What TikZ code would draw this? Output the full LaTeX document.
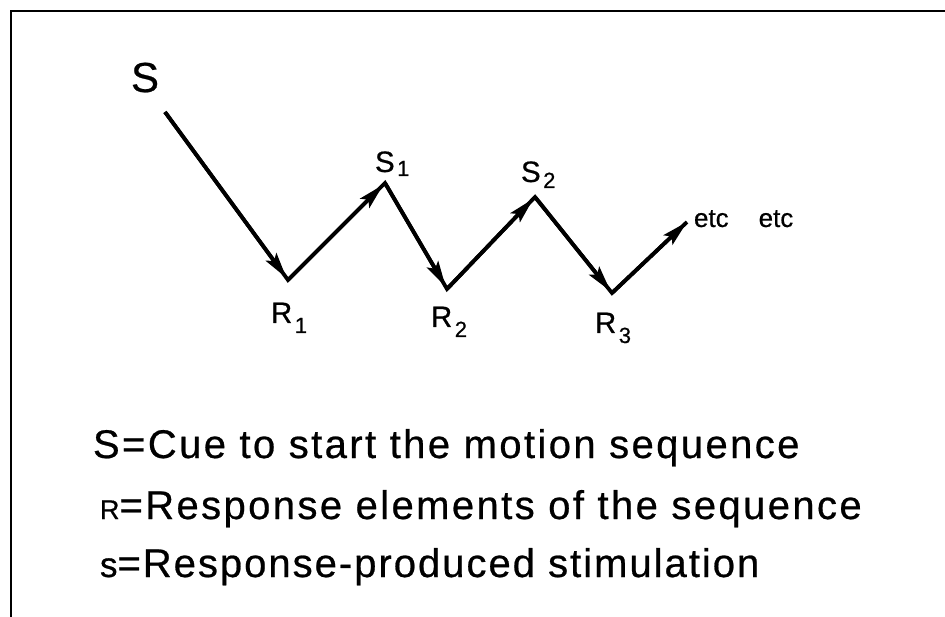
\documentclass[tikz,border=0pt]{standalone}
\usepackage{fontspec}
\usepackage{graphicx}
\setmainfont[FakeBold=0.6]{Liberation Sans}
\newfontfamily\legendfont[LetterSpace=6,FakeBold=0.6]{Liberation Sans}
\newfontfamily\legendfontb[LetterSpace=5,FakeBold=0.6]{Liberation Sans}
\usetikzlibrary{arrows.meta}
\newcommand\subnum[2]{\hspace{2.5pt}\raisebox{-#2}{\fontsize{22}{24}\selectfont #1}}
\begin{document}
\begin{tikzpicture}[x=1pt,y=-1pt,
  flow/.style={line width=3.8pt, line join=miter},
  tipline/.style={line width=3.8pt, -{Stealth[length=26pt,width=13pt,inset=5pt]}, shorten >=2.5pt},
  lbl/.style={anchor=base west, inner sep=0pt, outer sep=0pt},
  biglbl/.style={lbl, font=\fontsize{29.5}{33}\selectfont},
  legend/.style={lbl, font=\legendfont\fontsize{40}{44}\selectfont},
  legendb/.style={lbl, font=\legendfontb\fontsize{40}{44}\selectfont},
  frame/.style={line width=2.4pt}
  ]
\useasboundingbox (0,0) rectangle (945,617);
% frame
\draw[frame] (945,11) -- (11,11) -- (11,617);
% vertices
\coordinate (p0) at (165,112);
\coordinate (r1) at (288,280);
\coordinate (s1) at (385,183);
\coordinate (r2) at (447,289);
\coordinate (s2) at (535,197);
\coordinate (r3) at (612,293);
\coordinate (e)  at (687,222);
% chain
\draw[flow] (p0) -- (r1) -- (s1) -- (r2) -- (s2) -- (r3) -- (e);
\draw[tipline] (p0) -- (r1);
\draw[tipline] (r1) -- (s1);
\draw[tipline] (s1) -- (r2);
\draw[tipline] (r2) -- (s2);
\draw[tipline] (s2) -- (r3);
\draw[tipline, shorten >=0pt] (r3) -- (e);
% labels
\node[lbl, font=\fontsize{42}{46}\selectfont] (Slab) at (131,92) {S};
\node[biglbl] (R1lab) at (271,323) {R\subnum{1}{10pt}};
\node[biglbl] (S1lab) at (375,172) {S\subnum{1}{4pt}};
\node[biglbl] (R2lab) at (431,327) {R\subnum{2}{10pt}};
\node[biglbl] (S2lab) at (521,182) {S\subnum{2}{6pt}};
\node[biglbl] (R3lab) at (595,333) {R\subnum{3}{10pt}};
\node[lbl, font=\fontsize{26}{30}\selectfont] (etclab) at (694,227) {etc\hspace{30pt}etc};
% legend
\node[legend] (L1) at (93,458) {S=Cue to start the motion sequence};
\node[legend] (L2) at (100,519) {{\fontsize{27}{30}\selectfont R}=Response elements of the sequence};
\node[legendb] (L3) at (100,577) {{\fontsize{35}{40}\selectfont s}=Response-produced stimulation};
\end{tikzpicture}
\end{document}
